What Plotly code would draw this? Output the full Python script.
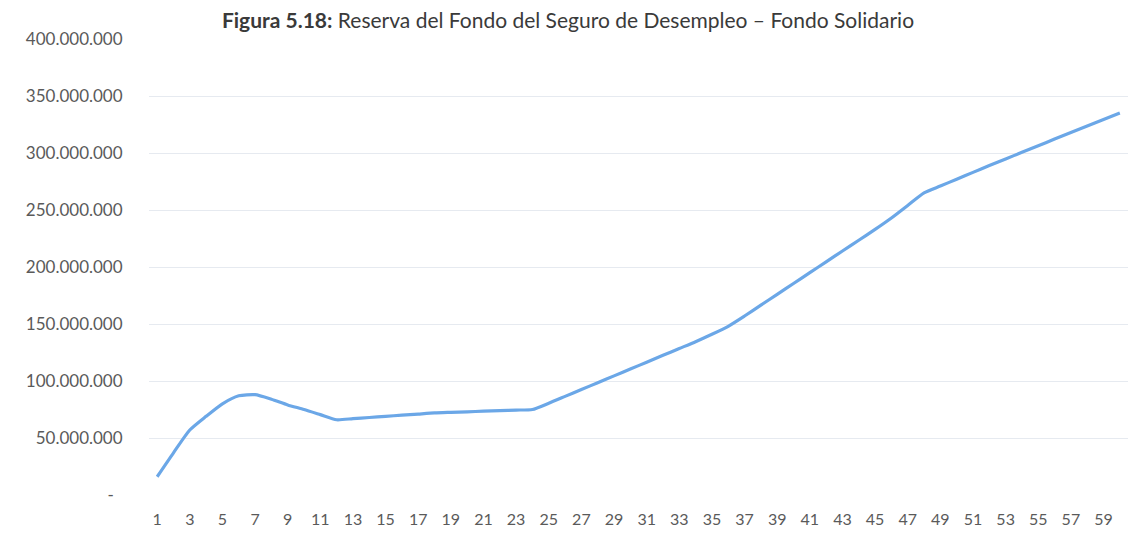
import plotly.graph_objects as go

periods = list(range(1, 61))
reserva_millones = [
    16, 37, 57, 69, 80, 87, 88, 84, 79, 75,
    70.5, 66, 67, 68, 69, 70, 71, 72, 72.5, 73,
    73.5, 74, 74.5, 75, 80.5, 86.5, 92.5, 98.5, 104.5, 110.5,
    116.5, 122.5, 128.5, 134.5, 141, 148, 157, 166.5, 176, 185.5,
    195, 204.5, 214, 223.5, 233, 243, 254, 265, 271, 277,
    283, 289, 294.8, 300.6, 306.4, 312.2, 318, 323.7, 329.4, 335,
]
reserva = [v * 1_000_000 for v in reserva_millones]

y_tickvals = [0, 50e6, 100e6, 150e6, 200e6, 250e6, 300e6, 350e6, 400e6]
y_ticktext = ["-\u00a0\u00a0", "50.000.000", "100.000.000", "150.000.000",
              "200.000.000", "250.000.000", "300.000.000", "350.000.000", "400.000.000"]
x_tickvals = list(range(1, 60, 2))
x_ticktext = [str(v) for v in x_tickvals]

title_text = ("<b>Figura 5.18:</b> Reserva del Fondo del Seguro de Desempleo "
              "\u2013 Fondo Solidario")

fig = go.Figure()
fig.add_trace(go.Scatter(
    x=periods, y=reserva, mode="lines",
    line=dict(color="#6BA7E7", width=3.2, shape="spline", smoothing=0.6),
    showlegend=False, hoverinfo="x+y",
))

font_family = "Lato, 'Open Sans', sans-serif"

fig.update_layout(
    width=1120, height=520,
    paper_bgcolor="white", plot_bgcolor="white",
    margin=dict(l=141, r=0, t=31, b=33),
    title=dict(text=title_text, x=0.5, xanchor="center", y=1 - 13 / 520,
               yanchor="middle", yref="container",
               font=dict(family=font_family, size=21, color="#3a3a3a")),
    xaxis=dict(range=[0.5, 60.5], tickmode="array", tickvals=x_tickvals,
               ticktext=x_ticktext, showgrid=False, zeroline=False,
               showline=False, ticks="outside", ticklen=10, tickcolor="white",
               tickfont=dict(family=font_family, size=16, color="#5a5a5a")),
    yaxis=dict(range=[0, 400e6], tickmode="array", tickvals=y_tickvals,
               ticktext=y_ticktext, showgrid=True, gridcolor="#e6eaf0",
               gridwidth=1.2, zeroline=False, showline=False,
               ticks="outside", ticklen=22, tickcolor="white",
               tickfont=dict(family=font_family, size=17, color="#5a5a5a")),
)

fig.write_html("out.html")
